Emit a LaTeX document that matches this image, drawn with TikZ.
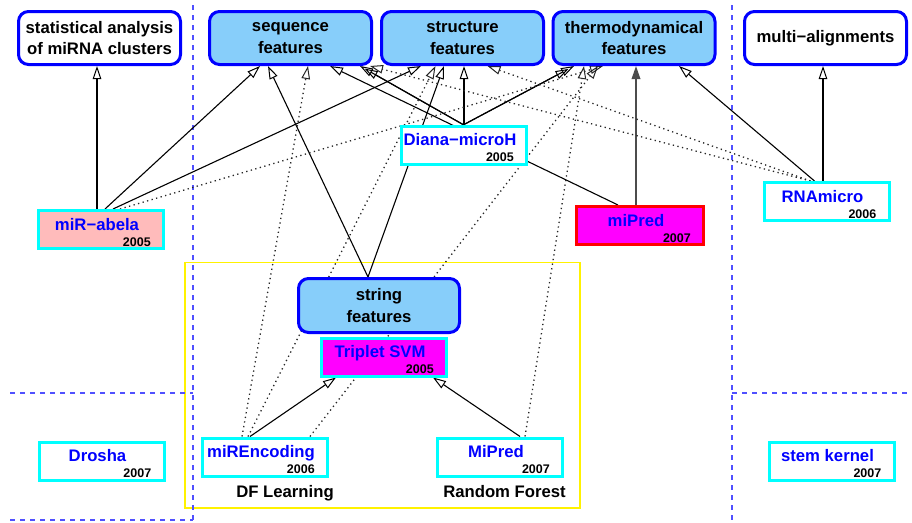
\documentclass[tikz,border=0pt]{standalone}
\usepackage{fontspec}
\setmainfont{Liberation Sans}
\usetikzlibrary{arrows.meta,calc,backgrounds}
\definecolor{featfill}{RGB}{135,206,250}
\definecolor{pinkfill}{RGB}{255,187,187}
\definecolor{sepblue}{RGB}{80,80,255}
\definecolor{cyanb}{RGB}{0,255,255}
\definecolor{magb}{RGB}{255,0,255}
\definecolor{blueb}{RGB}{0,0,255}
\tikzset{
 feat/.style={draw=blueb, line width=3pt, rounded corners=10pt, fill=featfill,
   minimum width=162pt, minimum height=53pt, inner sep=0pt, align=center,
   font=\bfseries\fontsize{16.7}{21.5}\selectfont},
 featw/.style={feat, fill=white},
 prog/.style={draw=cyanb, line width=3pt, fill=white, minimum width=125pt,
   minimum height=38pt, inner sep=0pt},
 nametext/.style={text=blueb, font=\bfseries\fontsize{16.7}{20}\selectfont, inner sep=0pt, anchor=base},
 yeartext/.style={font=\bfseries\fontsize{12.5}{14}\selectfont, inner sep=0pt, anchor=base east},
 plain/.style={font=\bfseries\fontsize{16.7}{20}\selectfont, inner sep=0pt, anchor=base},
 arr/.style={line width=1.1pt, -{Triangle[open, length=13pt, width=8.5pt, line width=1pt]}},
 dotarr/.style={line width=1.3pt, black!85, dash pattern=on 1.3pt off 3.4pt,
   -{Triangle[open, length=13pt, width=8.5pt, line width=1pt]}},
 thickarr/.style={line width=1.8pt, black!70, -{Triangle[length=13pt, width=8.5pt]}},
 sep/.style={sepblue, line width=1.3pt, dash pattern=on 5pt off 5pt},
 grp/.style={draw=yellow, line width=1.6pt},
}
\newcommand\progbox[6]{%
  \node[prog,#2] (#1) at (#3,#4) {};
  \node[nametext] (#1n) at ($(#1.north)+(-4,21)$) {#5};
  \node[yeartext] (#1y) at ($(#1.south east)+(-14,-4)$) {#6};
}
\begin{document}
\begin{tikzpicture}[x=1pt,y=-1pt]
\useasboundingbox (0,0) rectangle (912,522);
% feature boxes
\node[featw] (stat) at (99.5,38) {statistical analysis\\of miRNA clusters};
\node[feat] (seq) at (290.5,38) {sequence\\features};
\node[feat] (struc) at (462.5,38) {structure\\features};
\node[feat] (thermo) at (634,38) {thermodynamical\\features};
\node[featw] (multi) at (825.5,38) {multi−alignments};
\node[feat, minimum width=161pt, minimum height=54pt] (string) at (379,305.5) {string\\features};
% program boxes
\progbox{abela}{fill=pinkfill}{101}{229.5}{miR−abela}{2005}
\progbox{diana}{}{464}{145}{Diana−microH}{2005}
\progbox{mipredA}{draw=red, fill=magb, minimum width=127pt}{640}{225.5}{miPred}{2007}
\progbox{rnamicro}{}{826.5}{201.5}{RNAmicro}{2006}
\progbox{triplet}{fill=magb}{384}{357}{Triplet SVM}{2005}
\progbox{mirenc}{}{265}{457}{miREncoding}{2006}
\progbox{mipredB}{}{500}{457}{MiPred}{2007}
\progbox{drosha}{}{101.5}{461}{Drosha}{2007}
\progbox{stem}{}{831.5}{461}{stem kernel}{2007}
\node[plain] (dfl) at (285,497) {DF Learning};
\node[plain] (rf) at (504.5,497) {Random Forest};
% endpoints
\coordinate (tD) at ($(thermo.south)+(-60,0)$);
\coordinate (sD) at ($(seq.south)+(69.5,0)$);
\begin{scope}[on background layer]
 \draw[grp] (185,262.5) rectangle (580,508);
 \draw[sep] (193,5) -- (193,522);
 \draw[sep] (732,5) -- (732,522);
 \draw[sep] (10,393) -- (193,393);
 \draw[sep] (10,520) -- (193,520);
 \draw[sep] (732,393) -- (912,393);
 % solid connectors
 \draw[arr] ($(abela.north)+(-4,0)$) -- ($(stat.south)+(-2.5,0)$);
 \draw[arr] ($(abela.north)+(4,0)$) -- ($(seq.south)+(-30.5,0)$);
 \draw[arr] ($(abela.north)+(12,0)$) -- ($(struc.south)+(-41.5,0)$);
 \draw[arr] ($(string.north)+(-11,0)$) -- ($(seq.south)+(-22.5,0)$);
 \draw[arr] ($(string.north)+(-11,0)$) -- ($(struc.south)+(-18.5,0)$);
 \draw[arr] ($(diana.north)+(-1,0)$) -- (sD);
 \draw[arr] ($(diana.north)+(-1,0)$) -- ($(diana.north)!0.955!(sD)$);
 \draw[arr] ($(mipredA.north)+(-22,0)$) -- ($(seq.south)+(39.5,0)$);
 \draw[arr] (diana.north) -- (diana.north |- struc.south);
 \draw[arr] (diana.north) -- (tD);
 \draw[arr] (diana.north) -- ($(diana.north)!0.95!(tD)$);
 \draw[thickarr] ($(mipredA.north)+(-4,0)$) -- ($(thermo.south)+(2,0)$);
 \draw[arr] ($(rnamicro.north)+(-12,0)$) -- ($(thermo.south)+(45,0)$);
 \draw[arr] ($(rnamicro.north)+(-3.5,0)$) -- ($(multi.south)+(-2.5,0)$);
 \draw[arr] ($(mirenc.north)+(-15,0)$) -- ($(triplet.south)+(-48,0)$);
 \draw[arr] ($(mipredB.north)+(20,0)$) -- ($(triplet.south)+(49,0)$);
 % dotted connectors
 \draw[dotarr] ($(abela.north)+(19,0)$) -- ($(thermo.south)+(-31,0)$);
 \draw[dotarr] ($(mirenc.north)+(-23,0)$) -- ($(seq.south)+(17.5,0)$);
 \draw[dotarr] ($(mirenc.north)+(-17,0)$) -- ($(struc.south)+(-27,0)$);
 \draw[dotarr] ($(mirenc.north)+(45,0)$) -- ($(thermo.south)+(-36,0)$);
 \draw[dotarr] ($(mipredB.north)+(25,0)$) -- ($(thermo.south)+(-50,0)$);
 \draw[dotarr] ($(rnamicro.north)+(-16,0)$) -- ($(struc.south)+(25,0)$);
 \draw[dotarr] ($(rnamicro.north)+(-16,0)$) -- ($(seq.south)+(79.5,0)$);
\end{scope}
\end{tikzpicture}
\end{document}
